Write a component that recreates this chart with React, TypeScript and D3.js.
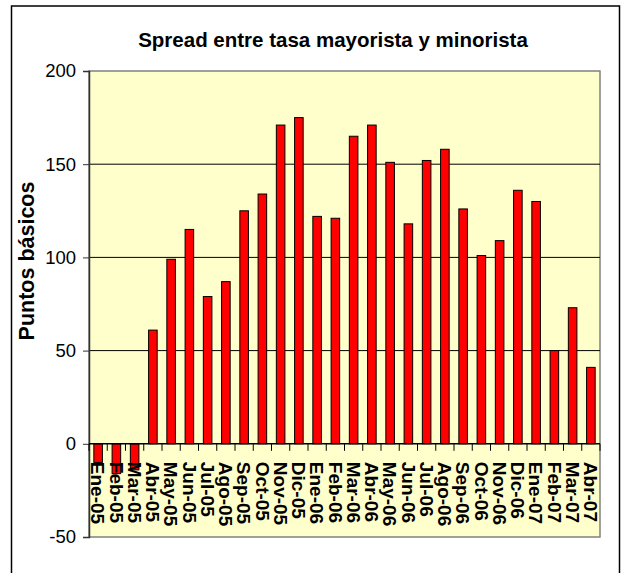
import React, { useEffect, useRef } from 'react';
import * as d3 from 'd3';

const months = [
  'Ene-05', 'Feb-05', 'Mar-05', 'Abr-05', 'May-05', 'Jun-05', 'Jul-05', 'Ago-05',
  'Sep-05', 'Oct-05', 'Nov-05', 'Dic-05', 'Ene-06', 'Feb-06', 'Mar-06', 'Abr-06',
  'May-06', 'Jun-06', 'Jul-06', 'Ago-06', 'Sep-06', 'Oct-06', 'Nov-06', 'Dic-06',
  'Ene-07', 'Feb-07', 'Mar-07', 'Abr-07'
];
const spread = [
  -10, -16, -14, 61, 99, 115, 79, 87,
  125, 134, 171, 175, 122, 121, 165, 171,
  151, 118, 152, 158, 126, 101, 109, 136,
  130, 50, 73, 41
];
const yTicks = [-50, 0, 50, 100, 150, 200];
const gridValues = [50, 100, 150];

const W = 622, H = 573;
const FONT = '"Liberation Sans", Arial, sans-serif';

export default function App() {
  const ref = useRef<SVGSVGElement>(null);

  useEffect(() => {
    const svg = d3.select(ref.current);
    svg.selectAll('*').remove();

    const margin = { top: 71, right: 22, bottom: 36, left: 89 };
    const x0 = margin.left, x1 = W - margin.right;
    const y0 = margin.top, y1 = H - margin.bottom;

    const x = d3.scaleBand<string>()
      .domain(months)
      .range([x0, x1])
      .paddingInner(0.53)
      .paddingOuter(0.265);
    const y = d3.scaleLinear().domain([-50, 200]).range([y1, y0]);
    const step = x.step();

    // outer frame
    svg.append('rect')
      .attr('x', 11.5).attr('y', 6)
      .attr('width', 608).attr('height', 620)
      .attr('fill', 'white')
      .attr('stroke', 'black')
      .attr('stroke-width', 1.5);

    svg.append('text')
      .attr('x', 333).attr('y', 47)
      .attr('text-anchor', 'middle')
      .style('font-family', FONT)
      .style('font-size', '20.5px')
      .style('font-weight', 'bold')
      .text('Spread entre tasa mayorista y minorista');

    // plot area
    svg.append('rect')
      .attr('x', x0).attr('y', y0)
      .attr('width', x1 - x0).attr('height', y1 - y0)
      .attr('fill', '#FFFFCC')
      .attr('stroke', '#808080')
      .attr('stroke-width', 1.5);

    svg.selectAll('.grid').data(gridValues).join('line')
      .attr('class', 'grid')
      .attr('x1', x0).attr('x2', x1)
      .attr('y1', d => y(d)).attr('y2', d => y(d))
      .attr('stroke', 'black')
      .attr('stroke-width', 1);

    svg.selectAll('.bar').data(spread).join('rect')
      .attr('class', 'bar')
      .attr('x', (d, i) => x(months[i])!)
      .attr('y', d => y(Math.max(0, d)))
      .attr('width', x.bandwidth())
      .attr('height', d => Math.abs(y(d) - y(0)))
      .attr('fill', '#FF0000')
      .attr('stroke', 'black')
      .attr('stroke-width', 1);

    // y axis
    const yAxis = svg.append('g').attr('transform', `translate(${x0},0)`)
      .call(d3.axisLeft(y).tickValues(yTicks).tickSize(6).tickPadding(7).tickFormat(d => String(d)));
    yAxis.select('.domain').attr('stroke', '#333').attr('stroke-width', 1.5);
    yAxis.selectAll('.tick line').attr('stroke', '#333');
    yAxis.selectAll('text')
      .style('font-family', FONT)
      .style('font-size', '18.5px')
      .attr('fill', 'black');

    // category axis at zero
    const yz = y(0);
    svg.append('line')
      .attr('x1', x0).attr('x2', x1)
      .attr('y1', yz).attr('y2', yz)
      .attr('stroke', 'black').attr('stroke-width', 1.5);
    const bounds = d3.range(months.length + 1).map(i => x0 + i * step);
    svg.selectAll('.xtick').data(bounds).join('line')
      .attr('class', 'xtick')
      .attr('x1', d => d).attr('x2', d => d)
      .attr('y1', yz).attr('y2', yz + 7)
      .attr('stroke', 'black');

    svg.selectAll('.xlabel').data(months).join('text')
      .attr('class', 'xlabel')
      .attr('transform', d => `translate(${x(d)! + x.bandwidth() / 2},${yz + 18}) rotate(90)`)
      .attr('dy', '0.36em')
      .style('font-family', FONT)
      .style('font-size', '19px')
      .style('font-weight', 'bold')
      .text(d => d);

    svg.append('text')
      .attr('transform', `translate(34,261) rotate(-90)`)
      .attr('text-anchor', 'middle')
      .style('font-family', FONT)
      .style('font-size', '21.5px')
      .style('font-weight', 'bold')
      .text('Puntos básicos');
  }, []);

  return (
    <div style={{ position: 'absolute', left: 0, top: 0 }}>
      <svg ref={ref} width={W} height={H} style={{ display: 'block' }} />
    </div>
  );
}
